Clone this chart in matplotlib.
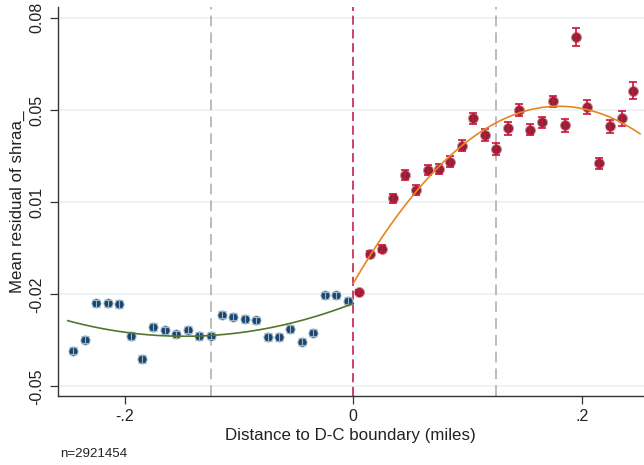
import numpy as np
import matplotlib
matplotlib.use("Agg")
import matplotlib.pyplot as plt

plt.rcParams['font.family'] = ['Liberation Sans', 'DejaVu Sans']

# binned means, left of the boundary (miles)
x_left = np.arange(-0.245, 0, 0.01)
y_left = [-0.0399, -0.0360, -0.0232, -0.0232, -0.0234, -0.0347, -0.0428, -0.0315,
          -0.0327, -0.0341, -0.0325, -0.0347, -0.0346, -0.0272, -0.0279, -0.0287,
          -0.0292, -0.0351, -0.0350, -0.0322, -0.0367, -0.0335, -0.0204, -0.0204,
          -0.0222]
err_left = [0.0013] * 25

# binned means, right of the boundary
x_right = np.arange(0.005, 0.25, 0.01)
y_right = [-0.0192, -0.0058, -0.0039, 0.0138, 0.0221, 0.0167, 0.0237, 0.0241,
           0.0268, 0.0324, 0.0420, 0.0362, 0.0311, 0.0385, 0.0450, 0.0380,
           0.0407, 0.0480, 0.0396, 0.0708, 0.0460, 0.0262, 0.0392, 0.0420,
           0.0518]
err_right = [0.0007, 0.0010, 0.0012, 0.0017, 0.0018, 0.0018, 0.0018, 0.0018,
             0.0018, 0.0020, 0.0021, 0.0021, 0.0021, 0.0022, 0.0020, 0.0019,
             0.0019, 0.0020, 0.0023, 0.0031, 0.0024, 0.0020, 0.0024, 0.0027,
             0.0029]

# quadratic fit coefficients (a*x^2 + b*x + c)
fit_left = [0.528, 0.1564, -0.0232]
fit_right = [-1.926, 0.6934, -0.0161]

ytick_vals = [-0.0525, -0.02, 0.0125, 0.045, 0.0775]
ytick_labels = ['-0.05', '-0.02', '0.01', '0.05', '0.08']
xtick_vals = [-0.2, 0, 0.2]
xtick_labels = ['-.2', '0', '.2']

fig = plt.figure(figsize=(6.44, 4.65), dpi=100)
ax = fig.add_axes([0.0896, 0.1484, 0.9104, 0.8356])

for yv in ytick_vals:
    ax.axhline(yv, color='#eaf2f3', lw=1.2, zorder=0)

ax.axvline(-0.125, color='#a9a9a9', lw=1.1, ls=(0, (7, 4)), zorder=1)
ax.axvline(0.125, color='#a9a9a9', lw=1.1, ls=(0, (7, 4)), zorder=1)
ax.axvline(0, color='#c0103a', lw=1.1, ls=(0, (6, 3)), zorder=1)

ax.plot(x_left, y_left, 'o', ms=6.6, color='#1a476f', mec='#a8bccb', mew=0.7, zorder=3)
ax.errorbar(x_left, y_left, yerr=err_left, fmt='none', ecolor='#9db4c4', elinewidth=0.8,
            capsize=2.6, capthick=0.8, zorder=4)

ax.plot(x_right, y_right, 'o', ms=7.2, color='#8a2535', mec='#dc8a9a', mew=0.7, zorder=3)
ax.errorbar(x_right, y_right, yerr=err_right, fmt='none', ecolor='#c8143c', elinewidth=1.2,
            capsize=2.6, capthick=1.2, zorder=4)

xl = np.linspace(-0.25, 0, 100)
ax.plot(xl, np.polyval(fit_left, xl), color='#55752f', lw=1.2, zorder=5)
xr = np.linspace(0, 0.251, 100)
ax.plot(xr, np.polyval(fit_right, xr), color='#e8851f', lw=1.2, zorder=5)

ax.set_xlim(-0.2588, 0.2545)
ax.set_ylim(-0.05585, 0.08116)

ax.set_xticks(xtick_vals)
ax.set_xticklabels(xtick_labels)
ax.set_yticks(ytick_vals)
ax.set_yticklabels(ytick_labels, rotation=90, va='center')
ax.tick_params(axis='both', length=5.5, width=0.9, color='#333333', labelsize=11.5,
               labelcolor='#222222', pad=4, direction='out')

for s in ['top', 'right']:
    ax.spines[s].set_visible(False)
for s in ['left', 'bottom']:
    ax.spines[s].set_color('#333333')
    ax.spines[s].set_linewidth(1.0)

ax.set_xlabel('Distance to D-C boundary (miles)', fontsize=12.2, color='#222222', labelpad=3)
ax.set_ylabel('Mean residual of shraa_', fontsize=12.2, color='#222222', labelpad=3)

fig.text(0.093, 0.018, 'n=2921454', fontsize=9.6, color='#222222')

fig.savefig('out.png', dpi=100)
